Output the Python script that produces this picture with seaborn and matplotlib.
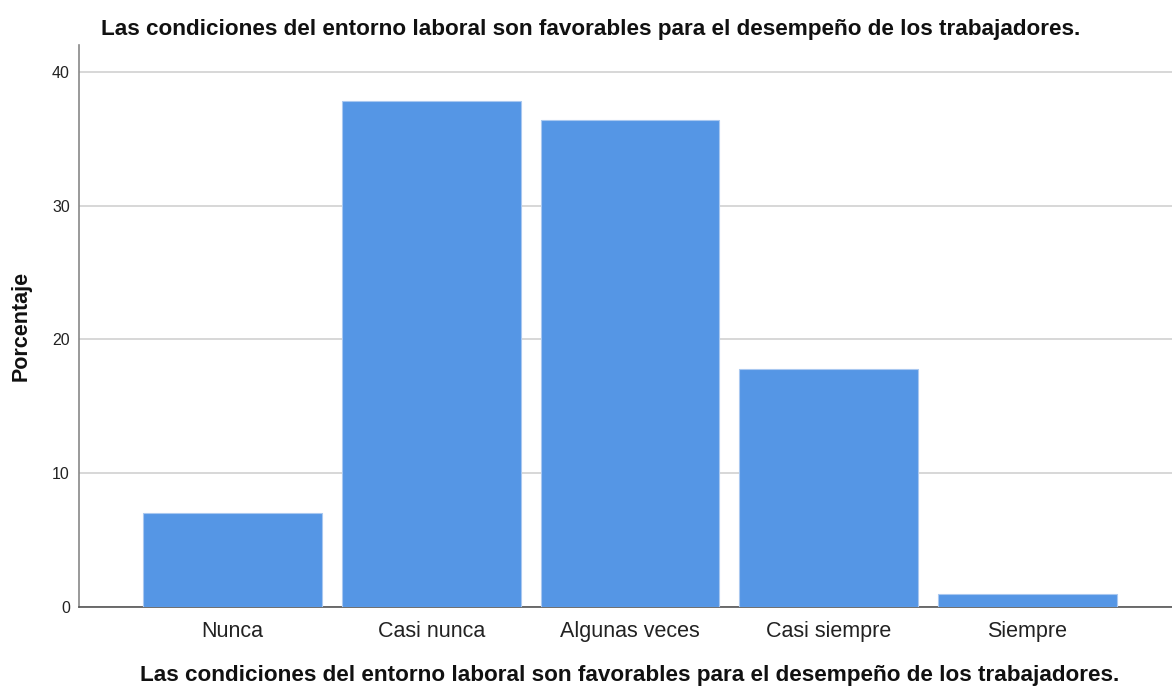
import matplotlib
matplotlib.use("Agg")
import matplotlib.pyplot as plt
import seaborn as sns
import pandas as pd

categorias = ["Nunca", "Casi nunca", "Algunas veces", "Casi siempre", "Siempre"]
porcentaje = [7.0, 37.8, 36.4, 17.8, 1.0]
yticks = [0, 10, 20, 30, 40]

titulo = "Las condiciones del entorno laboral son favorables para el desempeño de los trabajadores."

sns.set_theme(style="white")
plt.rcParams["font.family"] = ["Liberation Sans", "DejaVu Sans"]

df = pd.DataFrame({"cat": categorias, "pct": porcentaje})

fig = plt.figure(figsize=(11.72, 6.89), dpi=100)
ax = fig.add_axes([79 / 1172, 82 / 689, 1 - 79 / 1172, (607 - 45) / 689])

sns.barplot(data=df, x="cat", y="pct", order=categorias, color="#5596e5",
            saturation=1, width=0.9, edgecolor="#a9c8f0", linewidth=0.8, ax=ax, zorder=3)

ax.set_ylim(0, 42)
ax.set_xlim(-0.772, 4.727)
ax.set_yticks(yticks)
ax.yaxis.grid(True, color="#d4d4d4", linewidth=1.3, zorder=0)
ax.set_axisbelow(True)

for s in ["top", "right"]:
    ax.spines[s].set_visible(False)
ax.spines["left"].set_color("#888888")
ax.spines["bottom"].set_color("#555555")
ax.spines["left"].set_linewidth(1.2)
ax.spines["bottom"].set_linewidth(1.2)

ax.tick_params(axis="y", length=0, labelsize=11.5, pad=6.5, labelcolor="#222222")
ax.tick_params(axis="x", length=0, labelsize=15.5, pad=10, labelcolor="#222222")

ax.set_ylabel("Porcentaje", fontsize=15.5, fontweight="bold", color="#111111")
ax.yaxis.set_label_coords(-0.043, 0.5)
ax.set_xlabel(titulo, fontsize=16.2, fontweight="bold", labelpad=17, x=0.504, color="#111111")
ax.set_title(titulo, fontsize=16.2, fontweight="bold", pad=7, x=0.468, color="#111111")

fig.savefig("out.png", dpi=100)
